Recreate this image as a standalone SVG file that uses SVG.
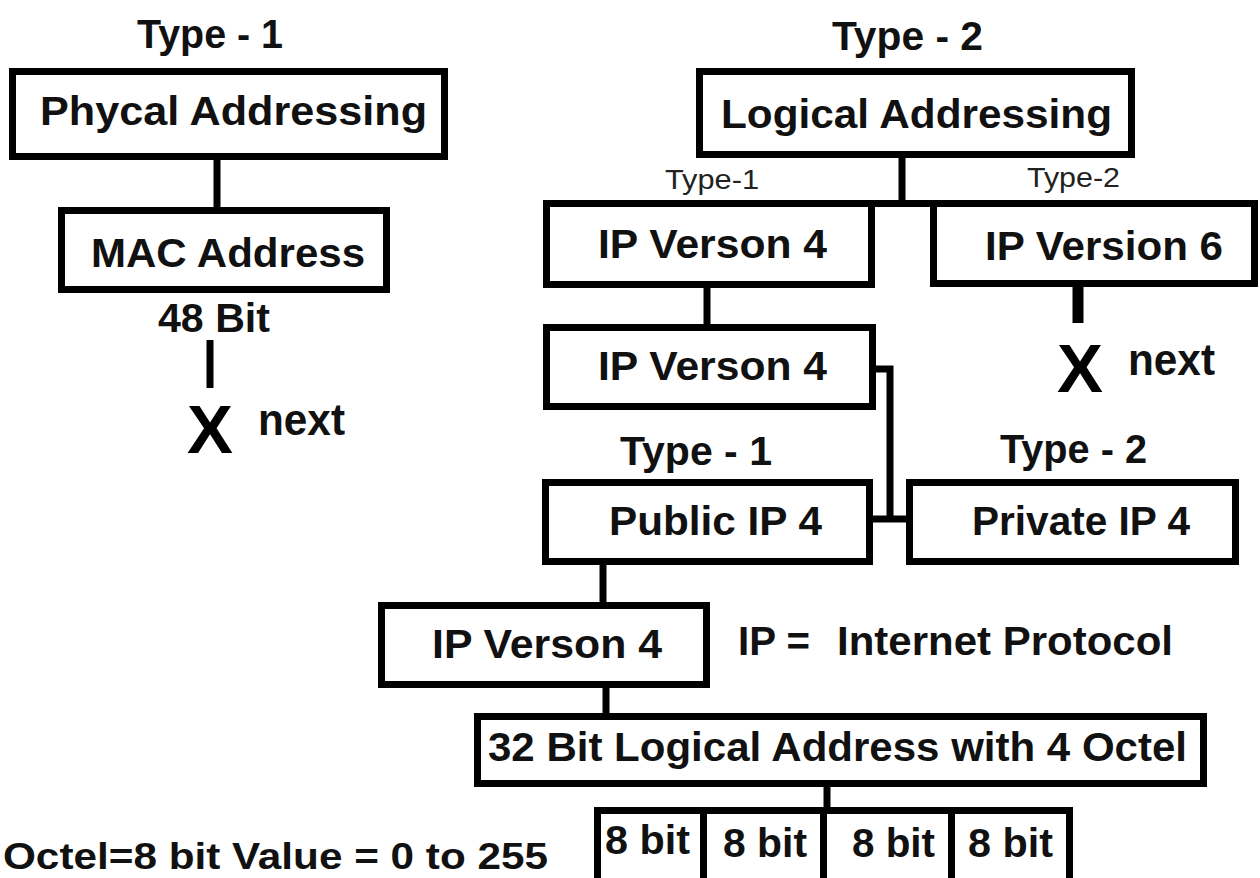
<svg xmlns="http://www.w3.org/2000/svg" width="1260" height="878" viewBox="0 0 1260 878">
<style>
.box{fill:#fff;stroke:#000;stroke-width:7}
.ln{fill:none;stroke:#000;stroke-width:7}
.t{font-family:"Liberation Sans",Arial,sans-serif;font-weight:bold;font-size:40px;fill:#111}
.s{font-family:"Liberation Sans",Arial,sans-serif;font-weight:normal;font-size:27px;fill:#222}
.x{font-family:"Liberation Sans",Arial,sans-serif;font-weight:bold;font-size:68px;fill:#000}
</style>
<rect width="1260" height="878" fill="#fff"/>
<g id="connectors">
<line class="ln" x1="217" y1="158" x2="217" y2="209"/>
<line class="ln" x1="210" y1="340" x2="210" y2="388"/>
<line class="ln" x1="902" y1="156" x2="902" y2="204"/>
<line class="ln" x1="543" y1="203.5" x2="1258" y2="203.5"/>
<line class="ln" x1="707" y1="286" x2="707" y2="326"/>
<line class="ln" x1="1078" y1="285" x2="1078" y2="323" style="stroke-width:11"/>
<path class="ln" d="M872 369 H890 V519"/>
<path class="ln" d="M870 519 H909"/>
<line class="ln" x1="603" y1="563" x2="603" y2="604"/>
<line class="ln" x1="606" y1="686" x2="606" y2="715"/>
<line class="ln" x1="827" y1="785" x2="827" y2="809"/>
</g>
<g id="label-type1-left"><text class="t" x="137" y="48" textLength="146" lengthAdjust="spacingAndGlyphs">Type - 1</text></g>
<g id="node-phycal">
<rect class="box" x="12.5" y="71.5" width="432" height="85"/>
<text class="t" x="40" y="125" textLength="387" lengthAdjust="spacingAndGlyphs">Phycal  Addressing</text>
</g>
<g id="node-mac">
<rect class="box" x="61.5" y="210.5" width="325" height="79"/>
<text class="t" x="91" y="267" textLength="274" lengthAdjust="spacingAndGlyphs">MAC Address</text>
</g>
<g id="label-48bit"><text class="t" x="158" y="332" textLength="112" lengthAdjust="spacingAndGlyphs">48 Bit</text></g>
<g id="end-left">
<text class="x" x="187" y="453" textLength="46" lengthAdjust="spacingAndGlyphs">X</text>
<text class="t" x="258" y="435" textLength="87" lengthAdjust="spacingAndGlyphs" style="font-size:44px">next</text>
</g>
<g id="label-type2-top"><text class="t" x="832" y="50" textLength="151" lengthAdjust="spacingAndGlyphs">Type - 2</text></g>
<g id="node-logical">
<rect class="box" x="699.5" y="71.5" width="432" height="83"/>
<text class="t" x="721" y="128" textLength="391" lengthAdjust="spacingAndGlyphs">Logical Addressing</text>
</g>
<g id="label-small-types">
<text class="s" x="665" y="189" textLength="94" lengthAdjust="spacingAndGlyphs">Type-1</text>
<text class="s" x="1027" y="187" textLength="93" lengthAdjust="spacingAndGlyphs">Type-2</text>
</g>
<g id="node-ipv4-a">
<rect class="box" x="546.5" y="203.5" width="325" height="81"/>
<text class="t" x="598" y="258" textLength="229" lengthAdjust="spacingAndGlyphs">IP Verson 4</text>
</g>
<g id="node-ipv6">
<rect class="box" x="933.5" y="203.5" width="321" height="80"/>
<text class="t" x="985" y="260" textLength="238" lengthAdjust="spacingAndGlyphs">IP Version 6</text>
</g>
<g id="end-right">
<text class="x" x="1057" y="392" textLength="46" lengthAdjust="spacingAndGlyphs">X</text>
<text class="t" x="1128" y="375" textLength="87" lengthAdjust="spacingAndGlyphs" style="font-size:44px">next</text>
</g>
<g id="node-ipv4-b">
<rect class="box" x="546.5" y="327.5" width="326" height="79"/>
<text class="t" x="598" y="380" textLength="229" lengthAdjust="spacingAndGlyphs">IP Verson 4</text>
</g>
<g id="label-type1-public"><text class="t" x="620" y="465" textLength="152" lengthAdjust="spacingAndGlyphs">Type - 1</text></g>
<g id="label-type2-private"><text class="t" x="1000" y="463" textLength="147" lengthAdjust="spacingAndGlyphs">Type - 2</text></g>
<g id="node-public">
<rect class="box" x="545.5" y="482.5" width="324" height="79"/>
<text class="t" x="609" y="535" textLength="213" lengthAdjust="spacingAndGlyphs">Public IP 4</text>
</g>
<g id="node-private">
<rect class="box" x="909.5" y="482.5" width="326" height="79"/>
<text class="t" x="972" y="535" textLength="218" lengthAdjust="spacingAndGlyphs">Private IP 4</text>
</g>
<g id="node-ipv4-c">
<rect class="box" x="381.5" y="605.5" width="325" height="79"/>
<text class="t" x="432" y="658" textLength="230" lengthAdjust="spacingAndGlyphs">IP Verson 4</text>
</g>
<g id="label-ip-def">
<text class="t" y="655"><tspan x="738" textLength="72" lengthAdjust="spacingAndGlyphs">IP =</tspan><tspan x="837" textLength="336" lengthAdjust="spacingAndGlyphs">Internet Protocol</tspan></text>
</g>
<g id="node-32bit">
<rect class="box" x="477.5" y="716.5" width="726" height="67"/>
<text class="t" x="488" y="761" textLength="699" lengthAdjust="spacingAndGlyphs">32 Bit Logical Address with 4 Octel</text>
</g>
<g id="node-octets">
<rect class="box" x="597.5" y="810.5" width="109" height="90"/>
<rect class="box" x="703.5" y="810.5" width="123" height="90"/>
<rect class="box" x="823.5" y="810.5" width="131" height="90"/>
<rect class="box" x="951.5" y="810.5" width="118" height="90"/>
<text class="t" x="605" y="854" textLength="85" lengthAdjust="spacingAndGlyphs">8 bit</text>
<text class="t" x="723" y="857" textLength="84" lengthAdjust="spacingAndGlyphs">8 bit</text>
<text class="t" x="852" y="857" textLength="83" lengthAdjust="spacingAndGlyphs">8 bit</text>
<text class="t" x="968" y="857" textLength="85" lengthAdjust="spacingAndGlyphs">8 bit</text>
</g>
<g id="label-octel"><text class="t" x="3" y="869" textLength="545" lengthAdjust="spacingAndGlyphs" style="font-size:36px">Octel=8 bit Value =  0 to 255</text></g>
</svg>
